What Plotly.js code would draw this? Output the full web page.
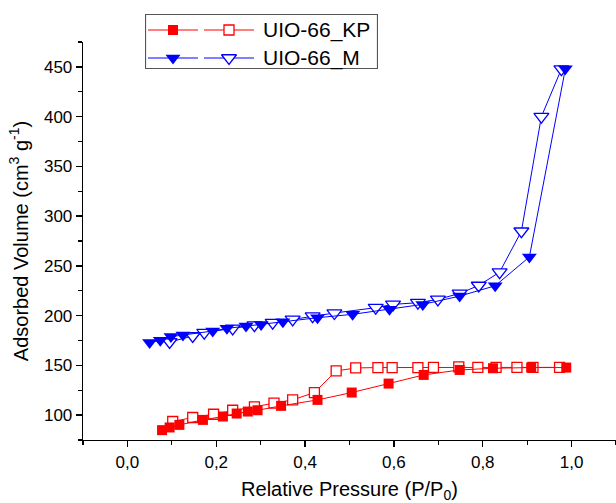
<!DOCTYPE html>
<html>
<head>
<meta charset="utf-8">
<script src="https://cdn.plot.ly/plotly-3.0.1.min.js"></script>
<style>html,body{margin:0;padding:0;background:#fff;}#chart{width:616px;height:503px;}</style>
</head>
<body>
<div id="chart"></div>
<script>
// UIO-66_KP adsorption (filled squares)
const kpAdsX = [0.078, 0.095, 0.117, 0.170, 0.215, 0.246, 0.271, 0.293, 0.346, 0.428, 0.505, 0.588, 0.667, 0.748, 0.823, 0.909, 0.988];
const kpAdsY = [84.9, 87.6, 90.2, 95.2, 98.6, 101.6, 103.6, 104.9, 109.3, 115.3, 122.7, 131.7, 140.4, 145.4, 147.1, 147.8, 147.8];
// UIO-66_KP desorption (open squares)
const kpDesX = [0.973, 0.913, 0.877, 0.830, 0.789, 0.746, 0.689, 0.654, 0.596, 0.564, 0.514, 0.470, 0.421, 0.372, 0.330, 0.286, 0.237, 0.194, 0.147, 0.102];
const kpDesY = [148.0, 148.0, 148.0, 148.0, 148.0, 148.4, 148.0, 147.8, 147.8, 147.8, 147.4, 144.4, 122.7, 115.3, 112.0, 108.3, 104.9, 100.9, 97.6, 93.6];
// UIO-66_M adsorption (filled down-triangles)
const mAdsX = [0.050, 0.074, 0.098, 0.125, 0.192, 0.224, 0.267, 0.301, 0.350, 0.428, 0.507, 0.590, 0.665, 0.748, 0.828, 0.905, 0.986];
const mAdsY = [172.9, 175.2, 178.9, 180.5, 184.5, 187.2, 189.5, 191.2, 193.9, 197.9, 201.3, 206.3, 211.3, 219.6, 230.0, 259.0, 448.0];
// UIO-66_M desorption (open down-triangles)
const mDesX = [0.977, 0.932, 0.887, 0.838, 0.791, 0.748, 0.699, 0.654, 0.598, 0.559, 0.466, 0.417, 0.372, 0.327, 0.286, 0.237, 0.173, 0.147, 0.095];
const mDesY = [447.7, 400.0, 284.8, 243.7, 230.3, 222.3, 216.3, 213.0, 211.3, 208.0, 202.6, 199.5, 196.2, 192.9, 190.5, 187.2, 182.9, 179.5, 173.5];

const seriesNames = ['UIO-66_KP', 'UIO-66_M'];
const xTitle = 'Relative Pressure (P/P<sub>0</sub>)';
const yTitle = 'Adsorbed Volume (cm<sup>3</sup> g<sup>-1</sup>)';

const RED = '#ff0000', BLUE = '#0000ff';
const FONT = 'Liberation Sans, Arial, sans-serif';
const SQ = 10, TRI = 13;

function tr(x, y, color, symbol, filled, size, xa, ya) {
  return {
    x: x, y: y, type: 'scatter', mode: 'lines+markers', showlegend: false,
    xaxis: xa || 'x', yaxis: ya || 'y', hoverinfo: 'skip',
    line: {color: color, width: 1},
    marker: {symbol: symbol, size: size, color: filled ? color : '#ffffff',
             line: {color: color, width: filled ? 0 : 1.3}}
  };
}

const data = [
  tr(kpDesX, kpDesY, RED, 'square', false, SQ),
  tr(kpAdsX, kpAdsY, RED, 'square', true, SQ),
  tr(mDesX, mDesY, BLUE, 'triangle-down', false, TRI),
  tr(mAdsX, mAdsY, BLUE, 'triangle-down', true, TRI)
];

// legend samples on an overlay axis measured in pixels of the legend box
const legRows = [30, 58];
const legColors = [RED, BLUE];
const legSymbols = ['square', 'triangle-down'];
const legSizes = [SQ, TRI];
for (let i = 0; i < 2; i++) {
  [[148, 173, 198, true], [204, 229, 254, false]].forEach(function (s) {
    data.push({x: [s[0], s[2]], y: [legRows[i], legRows[i]], type: 'scatter', mode: 'lines',
      xaxis: 'x2', yaxis: 'y2', showlegend: false, hoverinfo: 'skip',
      line: {color: legColors[i], width: 1}});
    data.push({x: [s[1]], y: [legRows[i]], type: 'scatter', mode: 'markers',
      xaxis: 'x2', yaxis: 'y2', showlegend: false, hoverinfo: 'skip',
      marker: {symbol: legSymbols[i], size: legSizes[i], color: s[3] ? legColors[i] : '#ffffff',
               line: {color: legColors[i], width: s[3] ? 0 : 1.3}}});
  });
}

const W = 616, H = 503, mT = 10, mB = 63, mL = 83;
const plotH = H - mT - mB; // 430
const legX0 = 145, legX1 = 378, legY0 = 14, legY1 = 69;

const layout = {
  width: W, height: H,
  margin: {l: mL, r: 0, t: mT, b: mB, pad: 0},
  paper_bgcolor: '#ffffff', plot_bgcolor: '#ffffff',
  separators: ',.',
  font: {family: FONT, color: '#000000', size: 17},
  xaxis: {
    range: [-0.1, 1.1], dtick: 0.2, tick0: 0, tickformat: '.1f',
    showgrid: false, zeroline: false, showline: true, linecolor: '#000', linewidth: 1.3,
    ticks: 'outside', ticklen: 6, tickwidth: 1.3, tickcolor: '#000',
    minor: {dtick: 0.1, ticks: 'outside', ticklen: 3.5, tickwidth: 1.1, tickcolor: '#000'},
    tickfont: {family: FONT, size: 17, color: '#000'},
    title: {text: xTitle, font: {family: FONT, size: 20, color: '#000'}, standoff: 12},
    fixedrange: true
  },
  yaxis: {
    domain: [0, 398 / plotH],
    range: [75, 475], dtick: 50, tick0: 0,
    showgrid: false, zeroline: false, showline: true, linecolor: '#000', linewidth: 1.3,
    ticks: 'outside', ticklen: 6, tickwidth: 1.3, tickcolor: '#000',
    minor: {dtick: 25, ticks: 'outside', ticklen: 3.5, tickwidth: 1.1, tickcolor: '#000'},
    tickfont: {family: FONT, size: 17, color: '#000'},
    title: {text: yTitle, font: {family: FONT, size: 20, color: '#000'}, standoff: 10},
    fixedrange: true
  },
  xaxis2: {
    domain: [(legX0 - mL) / (W - mL), (legX1 - mL) / (W - mL)],
    range: [legX0, legX1], visible: false, anchor: 'y2', fixedrange: true
  },
  yaxis2: {
    domain: [(H - mB - legY1) / plotH, (H - mB - legY0) / plotH],
    range: [legY1, legY0], visible: false, anchor: 'x2', fixedrange: true
  },
  shapes: [{
    type: 'rect', xref: 'x2', yref: 'y2', x0: legX0 + 0.5, x1: legX1 - 0.5, y0: legY0 + 0.5, y1: legY1 - 0.5,
    line: {color: '#555555', width: 1.2}, fillcolor: 'rgba(0,0,0,0)', layer: 'below'
  }],
  annotations: seriesNames.map(function (n, i) {
    return {xref: 'x2', yref: 'y2', x: 261, y: legRows[i], text: n, showarrow: false,
            xanchor: 'left', yanchor: 'middle', font: {family: FONT, size: 21, color: '#000'}};
  })
};

Plotly.newPlot('chart', data, layout, {staticPlot: true, displayModeBar: false});
</script>
</body>
</html>
